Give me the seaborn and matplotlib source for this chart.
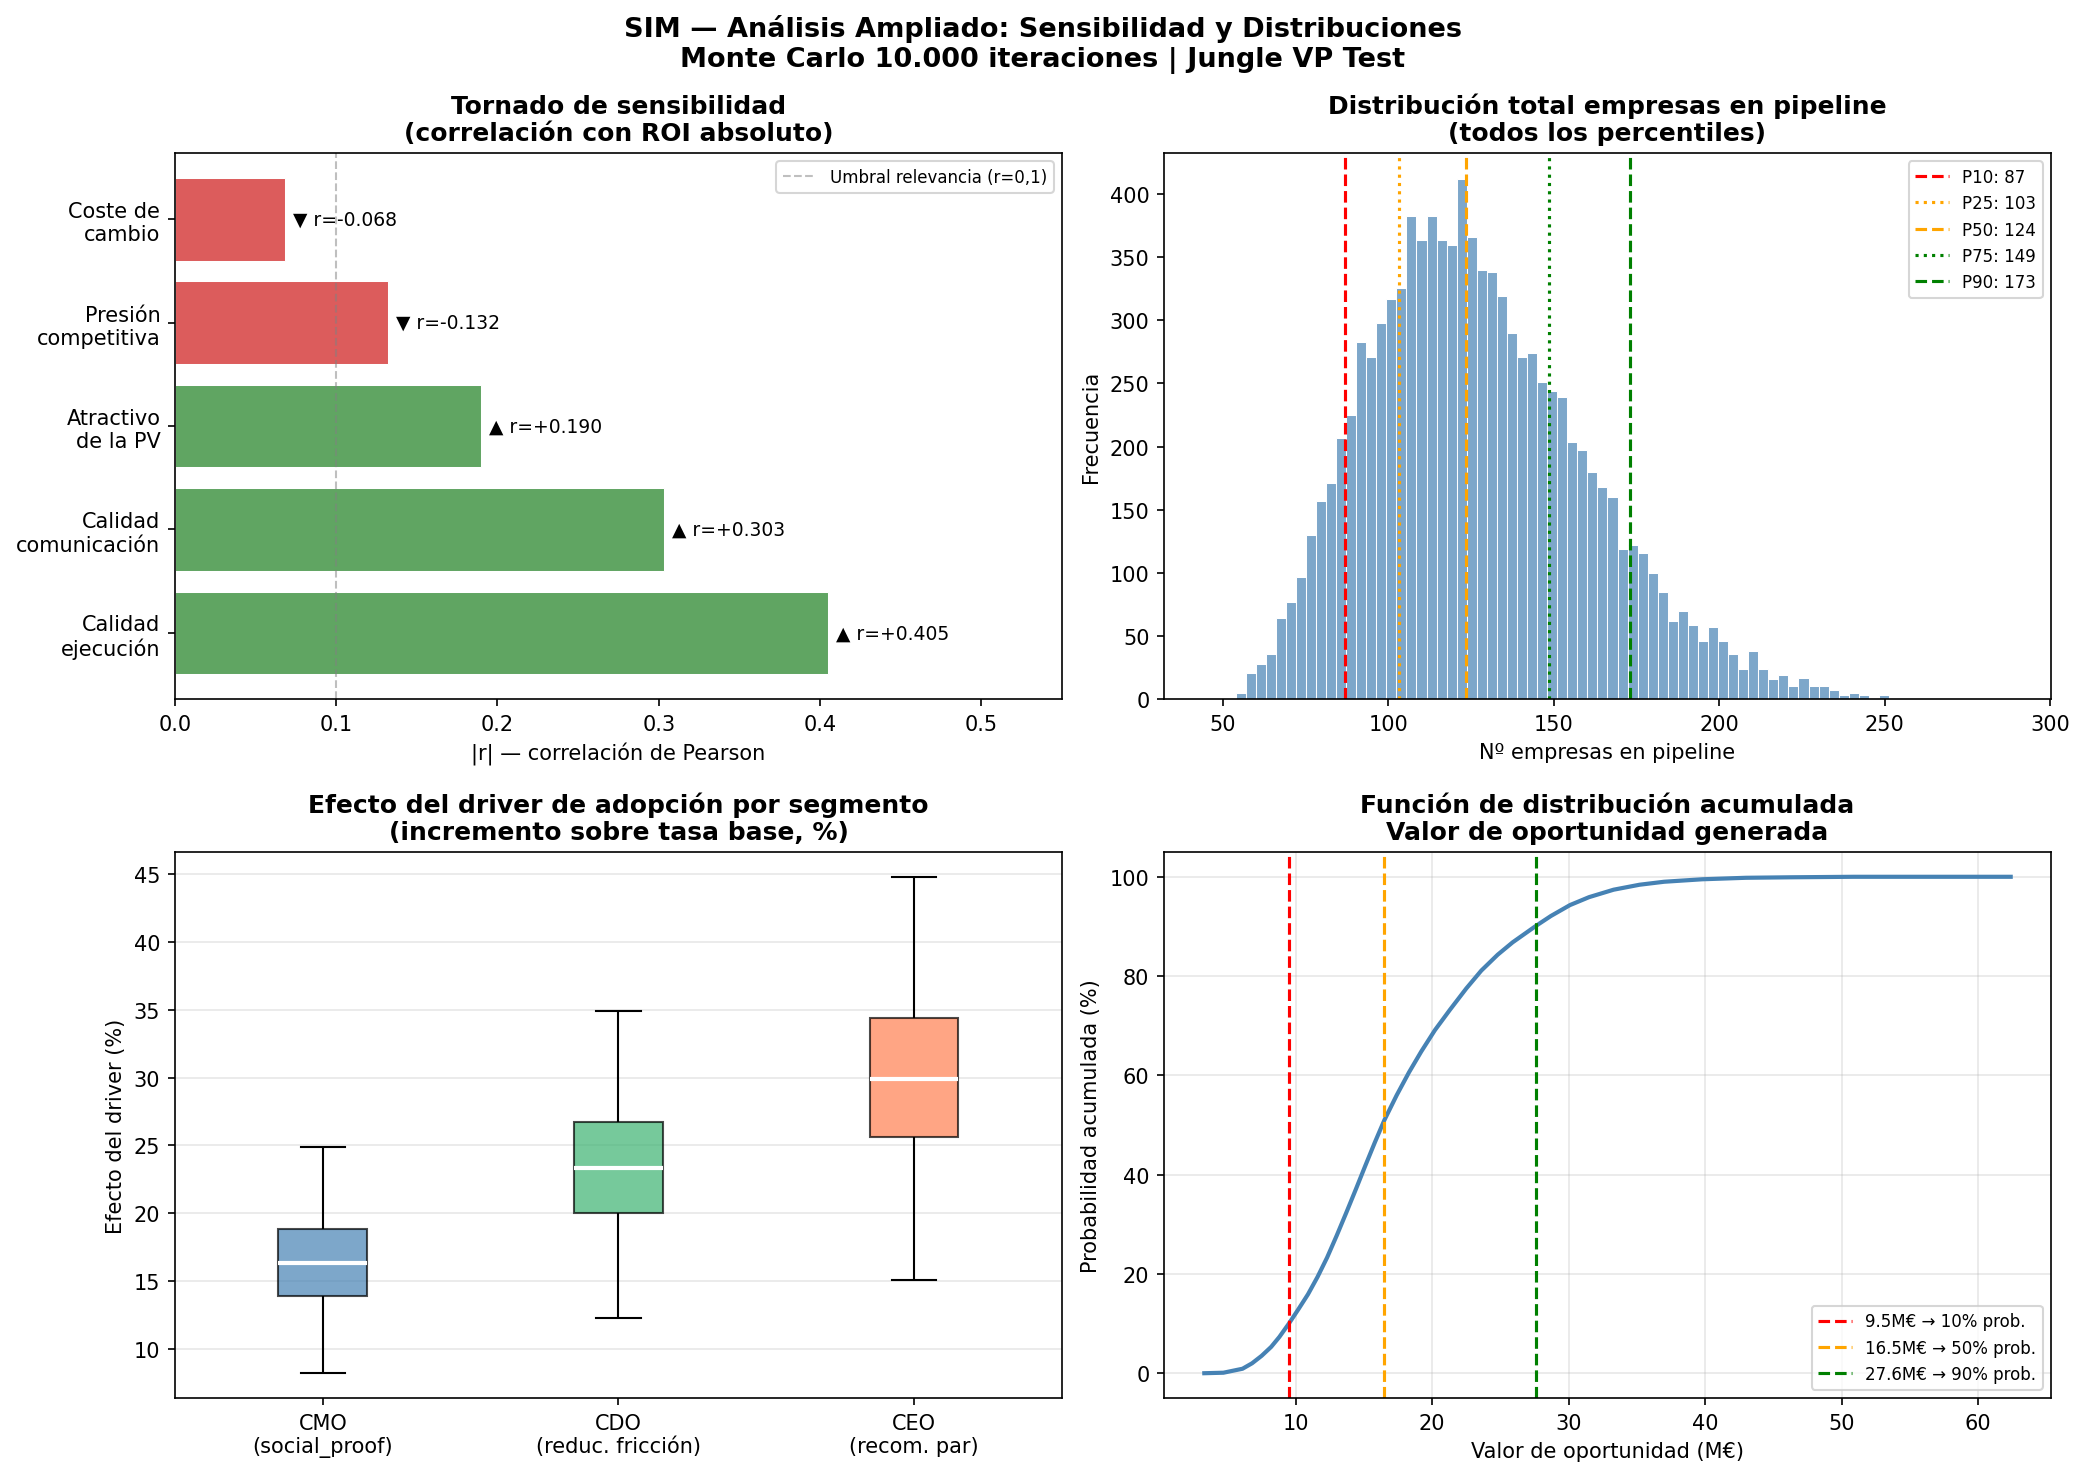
import numpy as np
import pandas as pd
import matplotlib
matplotlib.use("Agg")
import matplotlib.pyplot as plt
import seaborn as sns

plt.rcParams['font.family'] = ['DejaVu Sans']

# --- Tornado (correlation with absolute ROI) ---
drivers = ["Coste de\ncambio", "Presión\ncompetitiva", "Atractivo\nde la PV",
           "Calidad\ncomunicación", "Calidad\nejecución"]
corr_r = [-0.068, -0.132, 0.190, 0.303, 0.405]

# --- Pipeline histogram (counts per bin) ---
hist_start = 44.8
hist_width = 3.036
hist_counts = [1, 1, 0, 5, 21, 28, 36, 64, 77, 97,
               130, 157, 171, 207, 225, 283, 271, 298, 317, 326,
               383, 364, 383, 364, 360, 412, 366, 340, 338, 319,
               290, 271, 274, 251, 244, 239, 204, 197, 180, 168,
               160, 119, 122, 116, 100, 85, 62, 70, 59, 46,
               57, 46, 36, 24, 38, 24, 16, 19, 10, 17,
               10, 10, 7, 3, 5, 3, 1, 3, 0, 1,
               0, 0, 0, 0, 1, 0, 0, 1]
pct_names = ["P10", "P25", "P50", "P75", "P90"]
pct_values = [87.1, 103.4, 123.6, 148.7, 172.9]

# --- Driver effect by segment (whisker low, q1, median, q3, whisker high) ---
segments = ["CMO\n(social_proof)", "CDO\n(reduc. fricción)", "CEO\n(recom. par)"]
box_stats = [
    [8.2, 13.9, 16.3, 18.8, 24.9],
    [12.3, 20.0, 23.3, 26.7, 34.9],
    [15.1, 25.6, 29.9, 34.4, 44.8],
]

# --- CDF of opportunity value ---
cdf_x = [3.3, 4.7, 6.1, 6.8, 7.5, 8.2, 8.8, 9.5, 10.2, 10.9, 11.6, 12.3, 13.0,
         13.7, 14.4, 15.1, 15.8, 16.5, 17.4, 18.3, 19.2, 20.2, 21.3, 22.5,
         23.6, 24.8, 25.9, 27.6, 28.7, 30.1, 31.5, 33.3, 35.2, 37.0, 39.8,
         43.0, 46.3, 50.9, 62.4]
cdf_p = [0.0, 0.1, 0.9, 2.0, 3.5, 5.3, 7.3, 10.0, 12.9, 15.9, 19.4, 23.3, 27.7,
         32.3, 37.0, 41.8, 46.5, 51.0, 56.0, 60.6, 64.8, 69.1, 73.2, 77.5,
         81.1, 84.3, 86.8, 90.1, 92.1, 94.3, 95.9, 97.4, 98.4, 99.0, 99.5,
         99.8, 99.9, 100.0, 100.0]
thr_values = [9.5, 16.5, 27.6]
thr_probs = [10, 50, 90]


def plot_tornado(ax):
    abs_r = [abs(r) for r in corr_r]
    colors = ['#dc5c5c' if r < 0 else '#60a562' for r in corr_r]
    sns.barplot(x=abs_r, y=drivers, hue=drivers, palette=colors, legend=False,
                orient='h', width=0.8, saturation=1, edgecolor='white',
                linewidth=0.5, ax=ax)
    ax.axvline(0.1, color='gray', linestyle='--', linewidth=1, alpha=0.5,
               label='Umbral relevancia (r=0,1)')
    for i, r in enumerate(corr_r):
        arrow = '▲' if r > 0 else '▼'
        ax.text(abs(r) + 0.005, i, f"{arrow} r={r:+.3f}", va='center', fontsize=9)
    ax.set_xlim(0, 0.55)
    ax.set_ylim(4.64, -0.64)
    ax.set_xlabel('|r| — correlación de Pearson')
    ax.set_ylabel('')
    ax.set_title('Tornado de sensibilidad\n(correlación con ROI absoluto)',
                 fontsize=12, fontweight='bold')
    ax.legend(loc='upper right', fontsize=8)


def plot_pipeline(ax):
    edges = hist_start + hist_width * np.arange(len(hist_counts) + 1)
    df = pd.DataFrame({'center': (edges[:-1] + edges[1:]) / 2,
                       'count': hist_counts})
    sns.histplot(data=df, x='center', weights='count', bins=edges.tolist(),
                 color='steelblue', alpha=0.7, edgecolor='white',
                 linewidth=0.5, ax=ax)
    styles = [('red', '--'), ('orange', ':'), ('orange', '--'),
              ('green', ':'), ('green', '--')]
    for name, val, (c, ls) in zip(pct_names, pct_values, styles):
        ax.axvline(val, color=c, linestyle=ls, linewidth=1.5,
                   label=f"{name}: {val:.0f}")
    ax.set_xlim(32.3, 300.2)
    ax.set_xlabel('Nº empresas en pipeline')
    ax.set_ylabel('Frecuencia')
    ax.set_title('Distribución total empresas en pipeline\n(todos los percentiles)',
                 fontsize=12, fontweight='bold')
    ax.legend(loc='upper right', fontsize=8)


def plot_boxes(ax):
    df = pd.DataFrame({
        'segment': [s for s, st in zip(segments, box_stats) for _ in st],
        'effect': [v for st in box_stats for v in st],
    })
    sns.boxplot(data=df, x='segment', y='effect', hue='segment',
                palette=['steelblue', 'mediumseagreen', 'coral'], legend=False,
                whis=(0, 100), width=0.3, saturation=1, linecolor='black',
                linewidth=1, showfliers=False,
                medianprops=dict(color='white', linewidth=2), ax=ax)
    for patch in ax.patches:
        patch.set_alpha(0.7)
    ax.set_xlabel('')
    ax.set_ylabel('Efecto del driver (%)')
    ax.set_title('Efecto del driver de adopción por segmento\n(incremento sobre tasa base, %)',
                 fontsize=12, fontweight='bold')
    ax.grid(axis='y', alpha=0.3)


def plot_cdf(ax):
    sns.lineplot(x=cdf_x, y=cdf_p, color='steelblue', linewidth=2, ax=ax)
    for val, p, c in zip(thr_values, thr_probs, ['red', 'orange', 'green']):
        ax.axvline(val, color=c, linestyle='--', linewidth=1.5,
                   label=f"{val}M€ → {p}% prob.")
    ax.set_xlabel('Valor de oportunidad (M€)')
    ax.set_ylabel('Probabilidad acumulada (%)')
    ax.set_title('Función de distribución acumulada\nValor de oportunidad generada',
                 fontsize=12, fontweight='bold')
    ax.grid(alpha=0.3)
    ax.legend(loc='lower right', fontsize=8)


def main():
    fig, axes = plt.subplots(2, 2, figsize=(13.9, 9.8333), dpi=150)
    fig.subplots_adjust(left=0.0839, right=0.9837, top=0.8956, bottom=0.0515,
                        wspace=0.115, hspace=0.280)
    fig.suptitle('SIM — Análisis Ampliado: Sensibilidad y Distribuciones\n'
                 'Monte Carlo 10.000 iteraciones | Jungle VP Test',
                 fontsize=13, fontweight='bold', y=0.99)
    plot_tornado(axes[0, 0])
    plot_pipeline(axes[0, 1])
    plot_boxes(axes[1, 0])
    plot_cdf(axes[1, 1])
    fig.savefig('out.png', dpi=150)
    plt.close(fig)


if __name__ == "__main__":
    main()
